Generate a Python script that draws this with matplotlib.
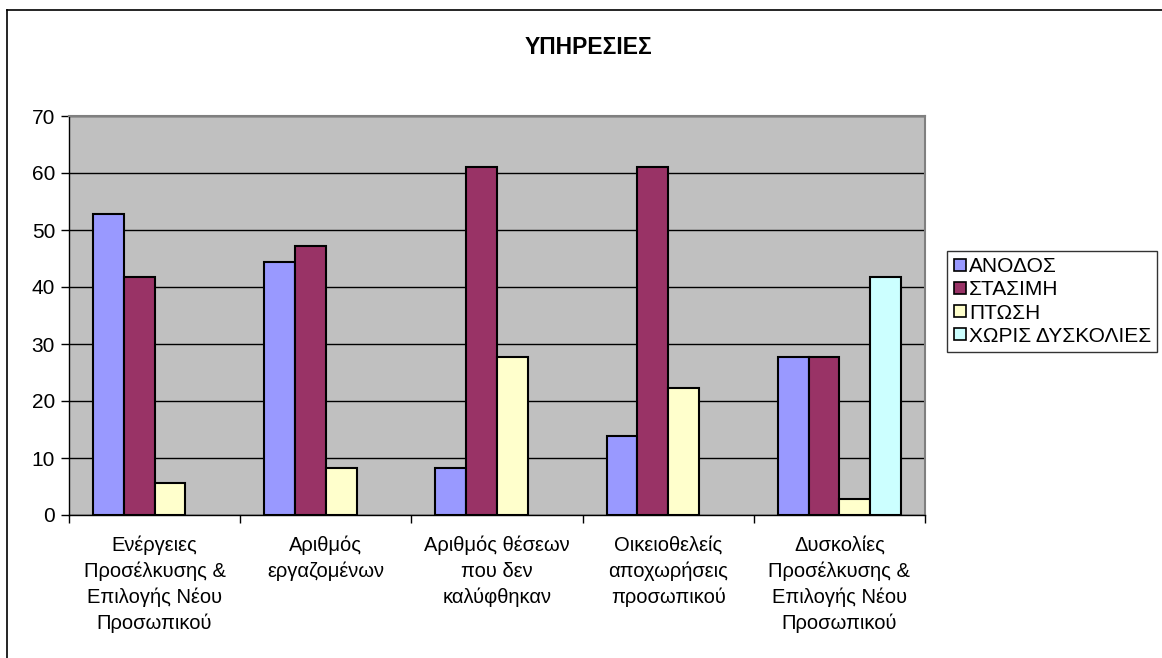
import matplotlib.pyplot as plt
from matplotlib.lines import Line2D
import numpy as np

plt.rcParams['font.family'] = ['Liberation Sans', 'DejaVu Sans']

# categories and series (percent of responses)
categories = ["Ενέργειες\nΠροσέλκυσης &\nΕπιλογής Νέου\nΠροσωπικού",
              "Αριθμός\nεργαζομένων",
              "Αριθμός θέσεων\nπου δεν\nκαλύφθηκαν",
              "Οικειοθελείς\nαποχωρήσεις\nπροσωπικού",
              "Δυσκολίες\nΠροσέλκυσης &\nΕπιλογής Νέου\nΠροσωπικού"]
series_names = ["ΑΝΟΔΟΣ", "ΣΤΑΣΙΜΗ", "ΠΤΩΣΗ", "ΧΩΡΙΣ ΔΥΣΚΟΛΙΕΣ"]
anodos = [52.8, 44.4, 8.3, 13.9, 27.8]
stasimi = [41.7, 47.2, 61.1, 61.1, 27.8]
ptosi = [5.6, 8.3, 27.8, 22.2, 2.8]
xoris = [0, 0, 0, 0, 41.7]
colors = ["#9999FF", "#993366", "#FFFFCC", "#CCFFFF"]

fig = plt.figure(figsize=(11.62, 6.58), dpi=100)
ax = fig.add_axes([69 / 1162, 1 - 515 / 658, (925 - 69) / 1162, (515 - 116) / 658])
ax.set_facecolor("#C0C0C0")

x = np.arange(len(categories))
w = 0.18
handles = []
for i, (vals, name, c) in enumerate(zip([anodos, stasimi, ptosi, xoris], series_names, colors)):
    pos = x - 1.5 * w + i * w
    v = np.array(vals, dtype=float)
    mask = v > 0
    ax.bar(pos[mask], v[mask], width=w, color=c, edgecolor="black", linewidth=1.5, zorder=3)
    handles.append(Line2D([], [], marker="s", linestyle="none", markersize=9,
                          markerfacecolor=c, markeredgecolor="black", markeredgewidth=1.2))

ax.set_xlim(-0.5, len(categories) - 0.5)
ax.set_ylim(0, 70)
ax.set_yticks(range(0, 71, 10))
ax.yaxis.grid(True, color="black", linewidth=1, zorder=1)
ax.set_axisbelow(True)

# category boundaries carry the tick marks, labels sit at the centres
ax.set_xticks(np.arange(-0.5, len(categories), 1.0))
ax.set_xticklabels([])
ax.set_xticks(x, minor=True)
ax.set_xticklabels(categories, minor=True, fontsize=14.5, linespacing=1.42, va="top")
ax.tick_params(axis="x", which="minor", length=0, pad=15)
ax.tick_params(axis="x", which="major", direction="out", length=6, width=1)
ax.tick_params(axis="y", direction="out", length=6, width=1, labelsize=15, pad=4)

for side in ["top", "right"]:
    ax.spines[side].set_color("#808080")
    ax.spines[side].set_linewidth(1.5)
for side in ["left", "bottom"]:
    ax.spines[side].set_color("black")
    ax.spines[side].set_linewidth(1)

fig.text(588 / 1162, 1 - 47 / 658, "ΥΠΗΡΕΣΙΕΣ", ha="center", va="center",
         fontsize=16.5, fontweight="bold")

leg = fig.legend(handles, series_names, loc="upper left",
                 bbox_to_anchor=(947 / 1162, 1 - 251 / 658),
                 frameon=True, fancybox=False, fontsize=15,
                 handlelength=0.6, handletextpad=0.15, labelspacing=0.2,
                 borderpad=0.3, borderaxespad=0)
leg.get_frame().set_edgecolor("black")
leg.get_frame().set_linewidth(1)

# outer chart frame (left and top edges)
fig.add_artist(Line2D([7 / 1162, 7 / 1162], [0, 1 - 10 / 658], color="black", linewidth=1.2))
fig.add_artist(Line2D([7 / 1162, 1], [1 - 10 / 658, 1 - 10 / 658], color="black", linewidth=1.2))

fig.savefig("out.png", dpi=100)
